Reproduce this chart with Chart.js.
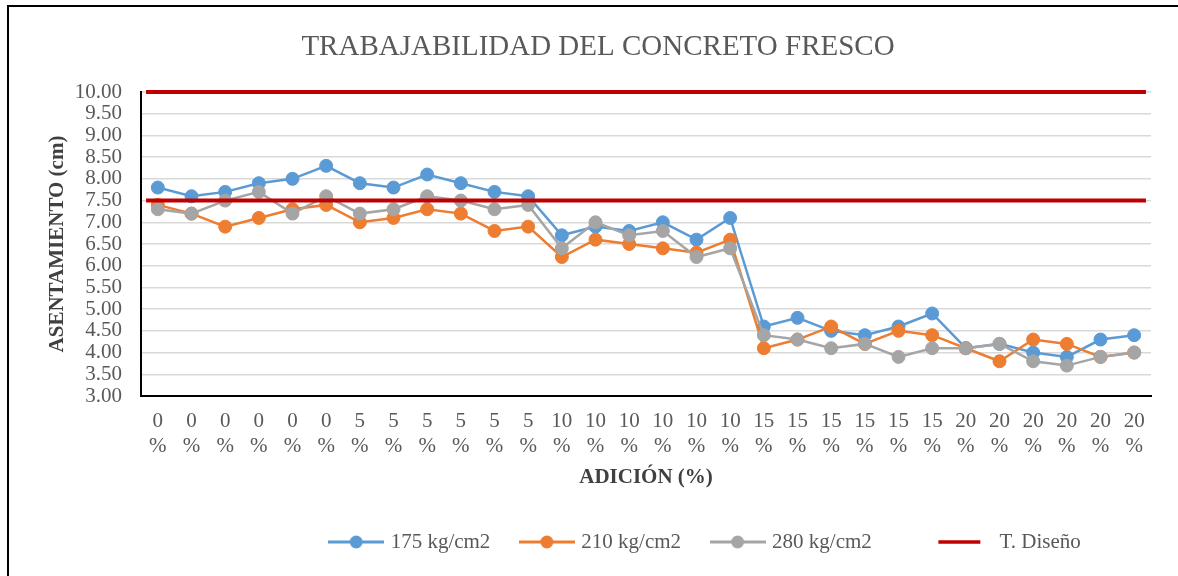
<!DOCTYPE html>
<html>
<head>
<meta charset="utf-8">
<script src="https://cdn.jsdelivr.net/npm/chart.js@4.4.0/dist/chart.umd.min.js"></script>
<style>
  body { margin: 0; background: #fff; }
  #wrap { position: relative; width: 1178px; height: 576px; overflow: hidden; }
  #frame { position: absolute; left: 7px; top: 5px; width: 1220px; height: 620px; border: 2px solid #000; pointer-events: none; }
</style>
</head>
<body>
<div id="wrap">
  <canvas id="chart" width="1178" height="576"></canvas>
  <div id="frame"></div>
</div>
<script>
// Categories (adición %)
const adicion = ['0', '0', '0', '0', '0', '0', '5', '5', '5', '5', '5', '5',
  '10', '10', '10', '10', '10', '10', '15', '15', '15', '15', '15', '15',
  '20', '20', '20', '20', '20', '20'];

// Asentamiento (cm)
const serie175 = [7.8, 7.6, 7.7, 7.9, 8.0, 8.3, 7.9, 7.8, 8.1, 7.9, 7.7, 7.6,
  6.7, 6.9, 6.8, 7.0, 6.6, 7.1, 4.6, 4.8, 4.5, 4.4, 4.6, 4.9,
  4.1, 4.2, 4.0, 3.9, 4.3, 4.4];
const serie210 = [7.4, 7.2, 6.9, 7.1, 7.3, 7.4, 7.0, 7.1, 7.3, 7.2, 6.8, 6.9,
  6.2, 6.6, 6.5, 6.4, 6.3, 6.6, 4.1, 4.3, 4.6, 4.2, 4.5, 4.4,
  4.1, 3.8, 4.3, 4.2, 3.9, 4.0];
const serie280 = [7.3, 7.2, 7.5, 7.7, 7.2, 7.6, 7.2, 7.3, 7.6, 7.5, 7.3, 7.4,
  6.4, 7.0, 6.7, 6.8, 6.2, 6.4, 4.4, 4.3, 4.1, 4.2, 3.9, 4.1,
  4.1, 4.2, 3.8, 3.7, 3.9, 4.0];

// T. Diseño limits and their span along the category axis
const disenoLimites = [10, 7.5];
const disenoSpan = [-0.35, 29.35];

const serif = '"Liberation Serif", "Times New Roman", serif';
const grey = '#595959';

// legend symbols: line with a dot
function legendIcon(color, withDot, w, x0, x1, lw) {
  const c = document.createElement('canvas');
  c.width = w; c.height = 16;
  const ctx = c.getContext('2d');
  ctx.strokeStyle = color;
  ctx.lineWidth = lw;
  ctx.beginPath();
  ctx.moveTo(x0, 8); ctx.lineTo(x1, 8);
  ctx.stroke();
  if (withDot) {
    ctx.fillStyle = color;
    ctx.beginPath();
    ctx.arc(w / 2, 8, 6.5, 0, Math.PI * 2);
    ctx.fill();
  }
  return c;
}
const blankIcon = document.createElement('canvas');
blankIcon.width = 2; blankIcon.height = 2;

const icons = [
  legendIcon('#5B9BD5', true, 56, 0, 56, 3),
  legendIcon('#ED7D31', true, 56, 0, 56, 3),
  legendIcon('#A5A5A5', true, 56, 0, 56, 3),
  legendIcon('#C00000', false, 112, 66, 108, 3.5)
];

function lineSet(label, data, color, order) {
  return {
    label: label,
    data: data,
    borderColor: color,
    backgroundColor: color,
    borderWidth: 2.5,
    pointRadius: 6.5,
    pointHoverRadius: 6.5,
    pointBorderWidth: 1,
    pointBorderColor: color,
    pointBackgroundColor: color,
    tension: 0,
    order: order
  };
}

function disenoSet(label, value) {
  return {
    label: label,
    type: 'line',
    xAxisID: 'x2',
    data: disenoSpan.map(x => ({ x: x, y: value })),
    borderColor: '#C00000',
    backgroundColor: '#C00000',
    borderWidth: 4,
    pointRadius: 0,
    clip: false,
    order: 0
  };
}

new Chart(document.getElementById('chart'), {
  type: 'line',
  data: {
    labels: adicion,
    datasets: [
      lineSet('175 kg/cm2', serie175, '#5B9BD5', 3),
      lineSet('210 kg/cm2', serie210, '#ED7D31', 2),
      lineSet('280 kg/cm2', serie280, '#A5A5A5', 1),
      disenoSet('T. Diseño', disenoLimites[0]),
      disenoSet('T. Diseño ', disenoLimites[1])
    ]
  },
  options: {
    responsive: false,
    devicePixelRatio: 1,
    animation: false,
    layout: { padding: { left: 45, right: 27, top: 0, bottom: 13.5 } },
    plugins: {
      title: {
        display: true,
        text: 'TRABAJABILIDAD DEL CONCRETO FRESCO',
        color: grey,
        font: { family: serif, size: 29, weight: 'normal', lineHeight: 1.2 },
        padding: { top: 29.5, bottom: 27.7 }
      },
      legend: {
        position: 'bottom',
        labels: {
          usePointStyle: true,
          pointStyleWidth: 48,
          padding: 32.5,
          color: grey,
          font: { family: serif, size: 21 },
          generateLabels: function (chart) {
            const names = ['175 kg/cm2', '210 kg/cm2', '280 kg/cm2', '       T. Diseño'];
            const items = [{
              text: ' '.repeat(24), pointStyle: blankIcon, fillStyle: 'rgba(0,0,0,0)',
              strokeStyle: 'rgba(0,0,0,0)', lineWidth: 0, hidden: false, datasetIndex: 4, fontColor: grey
            }];
            names.forEach((n, i) => {
              items.push({
                text: n, pointStyle: icons[i], fillStyle: 'rgba(0,0,0,0)',
                strokeStyle: 'rgba(0,0,0,0)', lineWidth: 0,
                hidden: !chart.isDatasetVisible(i), datasetIndex: i, fontColor: grey
              });
            });
            return items;
          }
        }
      },
      tooltip: { enabled: false }
    },
    scales: {
      x: {
        type: 'category',
        offset: true,
        grid: { display: false, drawTicks: false },
        border: { display: true, color: '#000', width: 2 },
        ticks: {
          color: grey,
          autoSkip: false,
          maxRotation: 0,
          padding: 13,
          font: { family: serif, size: 21, lineHeight: 1.19 },
          callback: function (v, i) { return [adicion[i], '%']; }
        },
        title: {
          display: true,
          text: 'ADICIÓN (%)',
          color: '#404040',
          font: { family: serif, size: 21, weight: 'bold', lineHeight: 1.2 },
          padding: { top: 0, bottom: 8.4 }
        },
        afterFit: function (s) { s.height = 103; }
      },
      x2: {
        type: 'linear',
        display: false,
        min: -0.5,
        max: 29.5
      },
      y: {
        min: 3,
        max: 10,
        grid: { color: '#d9d9d9', lineWidth: 1.5, drawTicks: false },
        border: { display: true, color: '#000', width: 2 },
        ticks: {
          stepSize: 0.5,
          autoSkip: false,
          color: grey,
          padding: 19,
          font: { family: serif, size: 21 },
          callback: function (v) { return v.toFixed(2); }
        },
        title: {
          display: true,
          text: 'ASENTAMIENTO (cm)',
          color: '#404040',
          font: { family: serif, size: 21, weight: 'bold', lineHeight: 1.2 },
          padding: { top: 0, bottom: 0 }
        },
        afterFit: function (s) { s.width = 96; }
      }
    }
  }
});
</script>
</body>
</html>
